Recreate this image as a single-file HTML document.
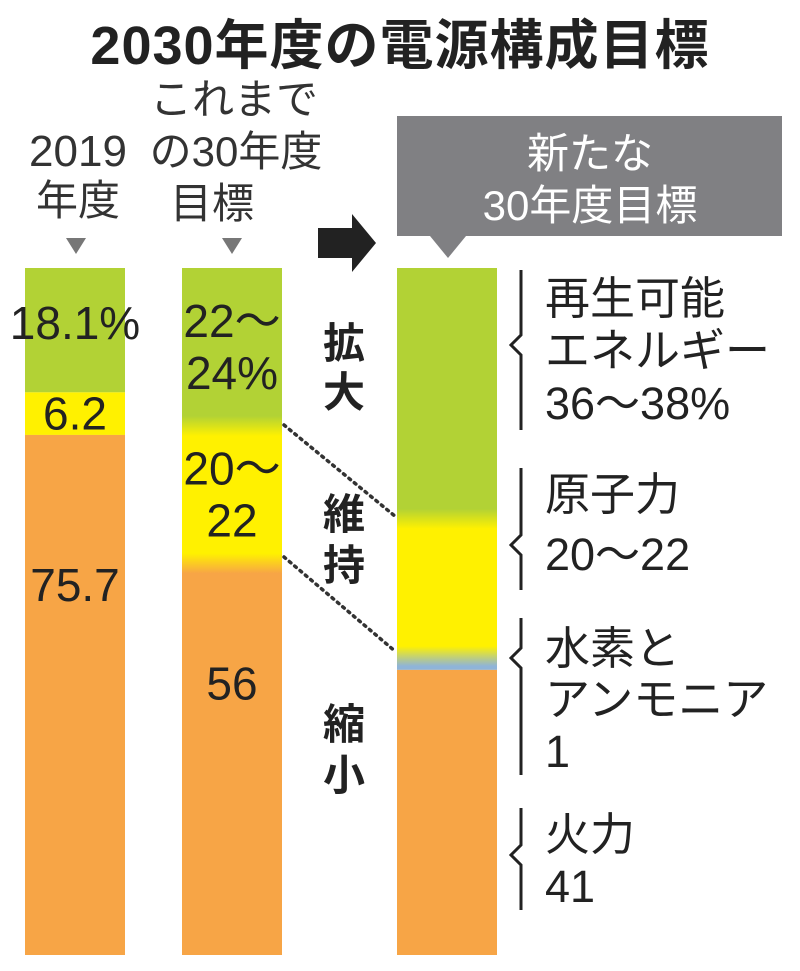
<!DOCTYPE html>
<html><head><meta charset="utf-8"><style>
html,body{margin:0;padding:0;background:#fff;}
svg{display:block;font-family:"Liberation Sans","Noto Sans CJK JP",sans-serif;}
</style></head><body>
<svg width="800" height="971" viewBox="0 0 800 971">
<defs>
<linearGradient id="gy" x1="0" y1="0" x2="0" y2="1"><stop offset="0" stop-color="#b2d235"/><stop offset="1" stop-color="#fff100"/></linearGradient>
<linearGradient id="yo" x1="0" y1="0" x2="0" y2="1"><stop offset="0" stop-color="#fff100"/><stop offset="1" stop-color="#f7a546"/></linearGradient>
<linearGradient id="yb" x1="0" y1="0" x2="0" y2="1"><stop offset="0" stop-color="#fff100"/><stop offset="1" stop-color="#8fb4d8"/></linearGradient>
</defs>
<text x="400" y="64" text-anchor="middle" font-size="54" font-weight="bold" fill="#222" letter-spacing="1">2030年度の電源構成目標</text>

<g font-size="42" fill="#333" text-anchor="middle">
<text x="78" y="166" font-size="44">2019</text>
<text x="78" y="215">年度</text>
<text x="234" y="114">これまで</text>
<text x="236" y="166">の30年度</text>
<text x="212" y="218">目標</text>
</g>
<polygon points="66,238 86,238 76,254" fill="#777"/>
<polygon points="222,238 242,238 232,254" fill="#777"/>
<polygon points="318,228 352,228 352,214 376,243 352,272 352,258 318,258" fill="#222"/>
<g>
<rect x="397" y="116" width="385" height="120" fill="#808083"/>
<polygon points="430,236 466,236 448,258" fill="#808083"/>
<text x="590" y="168" text-anchor="middle" font-size="42" fill="#fff">新たな</text>
<text x="590" y="220" text-anchor="middle" font-size="42" fill="#fff">30年度目標</text>
</g>

<g id="bars"></g>

<g stroke="#333" stroke-width="3.5" stroke-dasharray="2,5" stroke-linecap="round" fill="none">
<line x1="284" y1="425" x2="396" y2="517"/>
<line x1="284" y1="557" x2="396" y2="652"/>
</g>

<g font-size="42" font-weight="bold" fill="#222" text-anchor="middle">
<text x="344" y="358">拡</text>
<text x="344" y="407">大</text>
<text x="344" y="529">維</text>
<text x="344" y="580">持</text>
<text x="344" y="739">縮</text>
<text x="344" y="790">小</text>
</g>

<g stroke="#222" stroke-width="3" fill="none">
<path d="M521,270 V335 L511,345 L521,355 V430"/>
<path d="M521,468 V535 L511,545 L521,555 V590"/>
<path d="M521,618 V648 L511,658 L521,668 V775"/>
<path d="M521,808 V845 L511,855 L521,865 V910"/>
</g>
<g font-size="45" fill="#222">
<text x="545" y="314">再生可能</text>
<text x="545" y="366">エネルギー</text>
<text x="545" y="419">36～38%</text>
<text x="545" y="510">原子力</text>
<text x="545" y="570">20～22</text>
<text x="545" y="664">水素と</text>
<text x="545" y="715">アンモニア</text>
<text x="545" y="767">1</text>
<text x="545" y="850">火力</text>
<text x="545" y="902">41</text>
</g>
</svg>
<script>
const categories = ["2019年度", "これまでの30年度目標", "新たな30年度目標"];
const renewable = [18.1, 23, 36.5];
const nuclear = [6.2, 20, 20];
const hydrogen = [0, 0, 2];
const thermal = [75.7, 56, 41];
const renewableText = [["18.1%"], ["22～", "24%"], []];
const nuclearText = [["6.2"], ["20～", "22"], []];
const thermalText = [["75.7"], ["56"], []];

const NS = "http://www.w3.org/2000/svg";
const barX = [25, 182, 397], barW = 100, top0 = 268, bottom0 = 955;
const yScale = v => v * (bottom0 - top0) / 100;
const blend = [false, true, true];
const g = document.getElementById('bars');
function mk(tag, attrs) { const e = document.createElementNS(NS, tag); for (const k in attrs) e.setAttribute(k, attrs[k]); g.appendChild(e); return e; }
categories.forEach((c, i) => {
  const segs = [[renewable[i], "#b2d235", renewableText[i], 'renewable'], [nuclear[i], "#fff100", nuclearText[i], 'nuclear'], [hydrogen[i], "#8fb4d8", [], 'hydrogen'], [thermal[i], "#f7a546", thermalText[i], 'thermal']];
  let y = top0;
  const bounds = [];
  segs.forEach((s, j) => {
    let h = yScale(s[0]);
    if (j === 3) h = bottom0 - y;
    if (h <= 0) return;
    const r = mk('rect', { x: barX[i], y: y, width: barW, height: h, fill: s[1] });
    
    
    bounds.push([y, h, j]);
    y += h;
  });
  if (blend[i]) {
    for (let k = 1; k < bounds.length; k++) {
      const by = bounds[k][0];
      const a = bounds[k - 1][2], b = bounds[k][2];
      if (a === 2) continue;
      const grad = a === 0 ? 'url(#gy)' : (b === 2 ? 'url(#yb)' : 'url(#yo)');
      const r = mk('rect', { x: barX[i], y: by - 10, width: barW, height: 20, fill: grad });
      
      
    }
  }
  bounds.forEach(bd => {
    const lines = segs[bd[2]][2];
    if (!lines.length) return;
    let cy;
    if (bd[2] === 3) cy = bd[0] + (i === 0 ? 150 : 120);
    else cy = bd[0] + bd[1] / 2 - (lines.length - 1) * 26;
    if (i === 0 && bd[2] === 0) cy = bd[0] + 55;
    lines.forEach((t, li) => {
      const tx = mk('text', { x: barX[i] + barW / 2, y: cy + li * 52 + 16, 'text-anchor': 'middle', 'font-size': 46, fill: '#222' });
      
      
      tx.textContent = t;
    });
  });
});
</script>
</body></html>
